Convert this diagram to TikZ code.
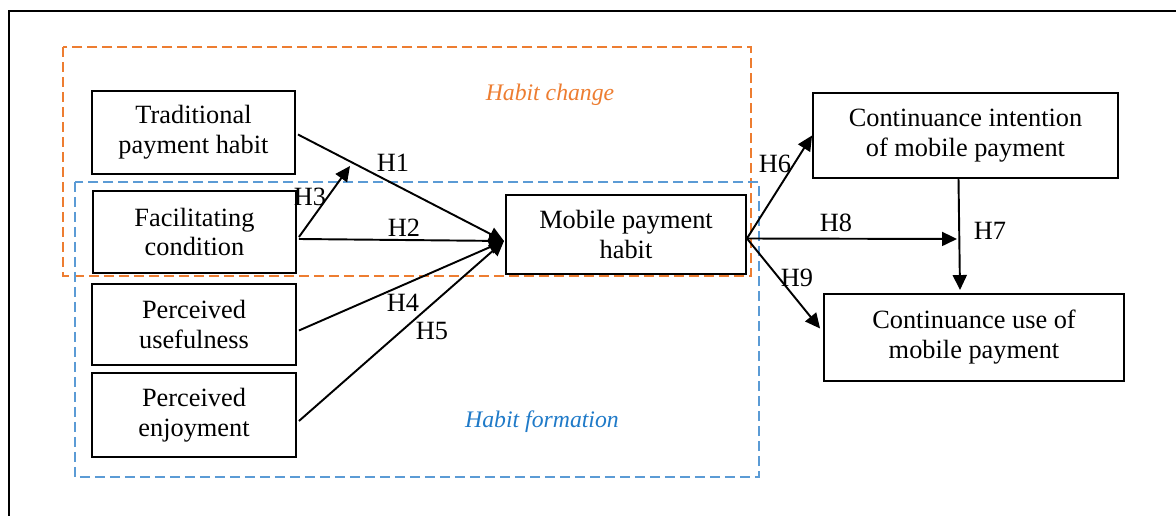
\documentclass[tikz,border=0pt]{standalone}
\usepackage{fontspec}
\setmainfont{Liberation Serif}
\usetikzlibrary{arrows.meta,calc}
\definecolor{chgorange}{RGB}{237,125,49}
\definecolor{frmblue}{RGB}{91,155,213}
\definecolor{frmtext}{RGB}{31,122,200}
\tikzset{
	box/.style={draw,line width=1.1pt,align=center,inner sep=0pt},
	grp/.style={line width=0.85pt,dash pattern=on 0.2cm off 0.1cm},
	grplabel/.style={inner sep=0pt,font=\fontsize{13.5}{16}\selectfont\itshape},
	arr/.style={line width=1.1pt,-{Triangle[length=0.3cm,width=0.28cm]}},
	hyp/.style={inner sep=0pt}
}
\begin{document}
\begin{tikzpicture}[x=0.02cm,y=-0.02cm,font=\fontsize{15}{17}\selectfont]
			\useasboundingbox (0,0) rectangle (1176,516);
			\draw[line width=1pt] (9,516) -- (9,11) -- (1176,11);
			% groups
			\draw[grp,chgorange] (63,47) rectangle (751,276);
			\draw[grp,frmblue] (75,182) rectangle (759,477);
			\node[grplabel,chgorange] (chg) at (550,95) {Habit change};
			\node[grplabel,frmtext] (frm) at (542,422) {Habit formation};
			% constructs
			\node[box,minimum width=4.06cm,minimum height=1.66cm] (trad) at (193.5,132.5) {Traditional\\payment habit};
			\node[box,minimum width=4.06cm,minimum height=1.64cm] (fac) at (194.5,232) {Facilitating\\condition};
			\node[box,minimum width=4.08cm,minimum height=1.62cm] (use) at (194,324.5) {Perceived\\usefulness};
			\node[box,minimum width=4.08cm,minimum height=1.68cm] (enj) at (194,415) {Perceived\\enjoyment};
			\node[box,minimum width=4.8cm,minimum height=1.58cm] (mph) at (626,234.5) {Mobile payment\\habit};
			\node[box,minimum width=6.1cm,minimum height=1.7cm] (cim) at (965.5,135.5) {Continuance intention\\of mobile payment};
			\node[box,minimum width=6cm,minimum height=1.74cm] (cum) at (974,337.5) {Continuance use of\\mobile payment};
			\coordinate (mphin) at (504,241);
			\coordinate (modpt) at (350,166);
			\coordinate (h8end) at (957,239);
			% paths
			\draw[arr] ($(trad.east)+(2,2)$) -- (mphin);
			\draw[arr] ($(fac.east)+(2,7)$) -- (mphin);
			\draw[arr] ($(fac.east)+(2,5)$) -- (modpt);
			\draw[arr] ($(use.east)+(2,6)$) -- (mphin);
			\draw[arr] ($(enj.east)+(2,6)$) -- (mphin);
			\draw[arr] ($(mph.east)+(0,4)$) -- (cim.west);
			\draw[arr] ($(mph.east)+(0,4)$) -- (h8end);
			\draw[arr] ($(mph.east)+(0,4)$) -- ($(cum.west)+(-3,-9)$);
			\draw[arr] ($(cim.south)+(-7,0)$) -- ($(cum.north)+(-14,-3)$);
			% labels
			\node[hyp] (h1) at (393,163) {H1};
			\node[hyp] (h2) at (404,228) {H2};
			\node[hyp] (h3) at (310,197) {H3};
			\node[hyp] (h4) at (403,303) {H4};
			\node[hyp] (h5) at (432,331) {H5};
			\node[hyp] (h6) at (775,164) {H6};
			\node[hyp] (h7) at (990,231) {H7};
			\node[hyp] (h8) at (836,223) {H8};
			\node[hyp] (h9) at (797,278) {H9};
		\end{tikzpicture}
\end{document}
